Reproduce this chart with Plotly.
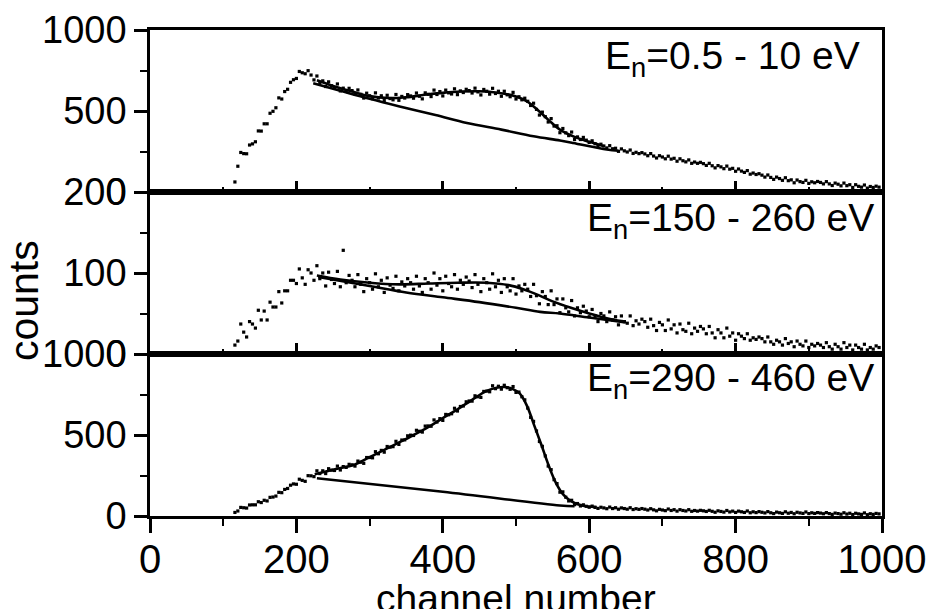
import plotly.graph_objects as go

# ---------------- data ----------------
channels = list(range(116, 1000, 4))  # channel numbers 116 ... 996

counts_low = [
    62, 159, 244, 237, 236, 290, 297, 310, 377, 376, 421, 421, 486, 498, 520, 581, 574, 620, 634, 677,
    693, 701, 744, 736, 730, 749, 722, 692, 716, 676, 686, 651, 680, 656, 642, 667, 624, 641, 625, 640,
    626, 605, 630, 603, 580, 610, 594, 576, 612, 580, 594, 564, 597, 577, 569, 602, 566, 590, 580, 601,
    593, 579, 611, 591, 575, 612, 603, 589, 629, 602, 620, 593, 629, 612, 605, 637, 601, 624, 614, 634,
    626, 611, 641, 618, 599, 633, 622, 604, 640, 608, 622, 591, 622, 600, 588, 615, 574, 588, 569, 579,
    560, 534, 548, 510, 475, 493, 465, 432, 453, 407, 409, 366, 392, 365, 348, 370, 324, 340, 324, 337,
    320, 306, 316, 298, 284, 295, 284, 272, 286, 267, 270, 251, 266, 254, 247, 259, 238, 245, 237, 243,
    235, 224, 237, 222, 210, 224, 216, 205, 221, 203, 208, 190, 205, 193, 186, 198, 177, 185, 177, 183,
    175, 164, 177, 162, 149, 163, 155, 144, 160, 141, 146, 128, 142, 129, 121, 132, 110, 117, 108, 113,
    104, 92, 105, 90, 78, 92, 83, 72, 88, 70, 75, 57, 74, 64, 59, 72, 53, 63, 57, 65,
    59, 50, 64, 50, 40, 55, 48, 38, 55, 39, 45, 28, 45, 35, 30, 43, 24, 34, 28, 36,
    30]

counts_mid = [
    11, 16, 37, 27, 21, 40, 37, 32, 54, 42, 53, 42, 64, 58, 58, 77, 63, 78, 78, 91,
    91, 87, 105, 94, 86, 104, 100, 91, 109, 93, 100, 84, 101, 92, 87, 102, 83, 128, 88, 97,
    91, 83, 98, 86, 77, 93, 88, 80, 99, 83, 91, 76, 94, 85, 81, 96, 78, 89, 84, 93,
    88, 80, 96, 84, 76, 93, 88, 80, 100, 85, 93, 78, 96, 87, 83, 98, 80, 91, 86, 95,
    90, 82, 98, 86, 77, 93, 88, 80, 99, 83, 91, 76, 93, 83, 78, 93, 74, 84, 78, 86,
    80, 71, 86, 72, 62, 77, 71, 61, 78, 61, 68, 51, 68, 57, 52, 66, 47, 57, 51, 59,
    53, 46, 55, 47, 40, 50, 47, 40, 52, 42, 46, 36, 47, 40, 38, 47, 35, 41, 37, 43,
    40, 33, 43, 35, 29, 39, 36, 29, 42, 31, 36, 26, 37, 30, 28, 38, 25, 32, 28, 34,
    31, 25, 34, 26, 20, 30, 26, 20, 32, 22, 26, 17, 25, 22, 19, 25, 17, 20, 18, 21,
    19, 15, 21, 15, 12, 17, 15, 11, 19, 13, 15, 9, 16, 12, 10, 16, 8, 12, 10, 13,
    11, 8, 14, 9, 6, 12, 9, 6, 14, 8, 11, 5, 11, 8, 6, 12, 5, 8, 6, 10,
    8]

counts_high = [
    22, 31, 53, 51, 49, 68, 69, 69, 88, 83, 97, 93, 115, 117, 123, 146, 144, 164, 170, 190,
    198, 196, 227, 220, 214, 249, 248, 243, 279, 262, 279, 262, 292, 283, 281, 308, 284, 305, 300, 319,
    316, 308, 339, 332, 325, 361, 361, 359, 397, 384, 405, 394, 429, 425, 428, 461, 442, 469, 470, 495,
    499, 497, 529, 523, 518, 555, 556, 554, 593, 580, 601, 590, 627, 625, 631, 665, 648, 676, 679, 705,
    710, 709, 742, 736, 732, 769, 771, 767, 804, 786, 801, 783, 807, 792, 782, 799, 763, 765, 736, 717,
    666, 609, 584, 525, 460, 430, 371, 308, 286, 224, 200, 147, 149, 116, 93, 97, 70, 77, 62, 69,
    60, 54, 61, 53, 47, 54, 50, 45, 55, 46, 51, 42, 50, 46, 42, 51, 40, 45, 41, 46,
    42, 37, 45, 38, 32, 41, 37, 33, 43, 34, 39, 30, 39, 34, 31, 39, 29, 34, 30, 35,
    32, 28, 35, 29, 23, 32, 28, 24, 34, 25, 30, 22, 30, 26, 22, 31, 20, 26, 21, 27,
    23, 19, 27, 20, 15, 24, 20, 16, 26, 17, 22, 14, 23, 19, 16, 25, 15, 20, 16, 21,
    18, 14, 21, 15, 10, 18, 15, 11, 20, 12, 17, 9, 17, 13, 10, 19, 8, 14, 10, 16,
    13]

# fitted curves through the data
fit_low_x = [228, 250, 275, 300, 325, 350, 375, 400, 425, 450, 475, 500, 515, 530, 545, 560, 580, 600, 620]
fit_low_y = [690, 655, 622, 592, 580, 585, 600, 612, 620, 622, 613, 590, 560, 505, 442, 385, 340, 310, 283]
fit_mid_x = [228, 260, 300, 340, 380, 420, 460, 490, 510, 530, 550, 575, 600, 630, 650]
fit_mid_y = [97, 92, 88, 86, 87, 88, 88, 85, 80, 73, 65, 57, 50, 43, 40]
fit_high_x = [225, 250, 280, 300, 320, 350, 380, 400, 420, 440, 460, 475, 485, 495, 505, 515, 525, 535, 545,
              555, 565, 575, 590, 610]
fit_high_y = [258, 286, 318, 363, 408, 476, 548, 604, 658, 717, 772, 793, 796, 785, 757, 680, 558, 435, 307,
              200, 130, 92, 65, 55]

# background lines
bg_low_x = [223, 260, 300, 341, 390, 433, 480, 524, 560, 578, 624, 640]
bg_low_y = [672, 625, 575, 528, 475, 426, 385, 344, 318, 303, 262, 255]
bg_mid_x = [230, 300, 350, 400, 450, 500, 533, 560, 600, 650]
bg_mid_y = [95, 84, 76, 70, 64, 57, 52, 50, 45, 39]
bg_high_x = [228, 400, 560, 580]
bg_high_y = [233, 150, 65, 60]

labels = ["E<sub>n</sub>=0.5 - 10 eV", "E<sub>n</sub>=150 - 260 eV", "E<sub>n</sub>=290 - 460 eV"]
x_tick_vals = [0, 200, 400, 600, 800, 1000]
y_ticks_low = [0, 500, 1000]
y_ticks_mid = [0, 100, 200]
y_ticks_high = [0, 500, 1000]

# ---------------- figure ----------------
FONT = "Liberation Sans, Arial, Helvetica, sans-serif"
fig = go.Figure()

panels = [
    ("x", "y", counts_low, fit_low_x, fit_low_y, bg_low_x, bg_low_y),
    ("x2", "y2", counts_mid, fit_mid_x, fit_mid_y, bg_mid_x, bg_mid_y),
    ("x3", "y3", counts_high, fit_high_x, fit_high_y, bg_high_x, bg_high_y),
]
for xa, ya, cnt, fx, fy, bx, by in panels:
    fig.add_trace(go.Scatter(x=channels, y=cnt, mode="markers", xaxis=xa, yaxis=ya,
                             marker=dict(symbol="square", size=3.2, color="black", line=dict(width=0)),
                             showlegend=False, cliponaxis=True))
    fig.add_trace(go.Scatter(x=fx, y=fy, mode="lines", xaxis=xa, yaxis=ya,
                             line=dict(color="black", width=2.6, shape="spline"), showlegend=False))
    fig.add_trace(go.Scatter(x=bx, y=by, mode="lines", xaxis=xa, yaxis=ya,
                             line=dict(color="black", width=2.6, shape="spline"), showlegend=False))


def xaxis_cfg(inside, show_labels, length):
    side = "inside" if inside else "outside"
    return dict(range=[0, 1000], showline=True, linecolor="black", linewidth=2.5, mirror=True,
                tickvals=x_tick_vals, ticks=side, ticklen=length, tickwidth=2.5, tickcolor="black",
                minor=dict(dtick=100, ticklen=length // 2, tickwidth=2, tickcolor="black", ticks=side),
                showgrid=False, zeroline=False, showticklabels=show_labels, domain=[0, 1],
                tickfont=dict(family=FONT, size=40, color="black"))


def yaxis_cfg(rng, vals, minor_dtick, domain):
    return dict(range=rng, tickvals=vals, domain=domain, showline=True, linecolor="black", linewidth=2.5,
                mirror=True, ticks="outside", ticklen=13, tickwidth=2.5, tickcolor="black",
                minor=dict(dtick=minor_dtick, ticklen=7, tickwidth=2, tickcolor="black", ticks="outside"),
                showgrid=False, zeroline=False, tickfont=dict(family=FONT, size=38, color="black"))


fig.update_layout(
    xaxis=dict(**xaxis_cfg(True, False, 11), anchor="y"),
    yaxis=dict(**yaxis_cfg([0, 1000], y_ticks_low, 250, [2/3, 1]), anchor="x"),
    xaxis2=dict(**xaxis_cfg(True, False, 11), anchor="y2", matches="x"),
    yaxis2=dict(**yaxis_cfg([0, 200], y_ticks_mid, 50, [1/3, 2/3]), anchor="x2"),
    xaxis3=dict(**xaxis_cfg(False, True, 14), anchor="y3", matches="x", ticklabelstandoff=-8),
    yaxis3=dict(**yaxis_cfg([0, 1000], y_ticks_high, 250, [0, 1/3]), anchor="x3"),
)

ann_pos = [(0.9725, 0.996), (0.9915, 0.663), (0.9915, 0.333)]
for text, (ax, ay) in zip(labels, ann_pos):
    fig.add_annotation(text=text, xref="paper", yref="paper", x=ax, y=ay, xanchor="right", yanchor="top",
                       showarrow=False, font=dict(family=FONT, size=39, color="black"))

fig.add_annotation(text="counts", xref="paper", yref="paper", x=-0.173, y=0.443, textangle=-90,
                   xanchor="center", yanchor="middle", showarrow=False,
                   font=dict(family=FONT, size=41, color="black"))
fig.add_annotation(text="channel number", xref="paper", yref="paper", x=0.5, y=-0.169,
                   xanchor="center", yanchor="middle", showarrow=False,
                   font=dict(family=FONT, size=39, color="black"))

fig.update_layout(width=930, height=609, margin=dict(l=150, r=48, t=30, b=93, autoexpand=False),
                  paper_bgcolor="white", plot_bgcolor="white")

fig.write_html("out.html", config={"displayModeBar": False},
               post_script="document.body.style.margin='0px';")
